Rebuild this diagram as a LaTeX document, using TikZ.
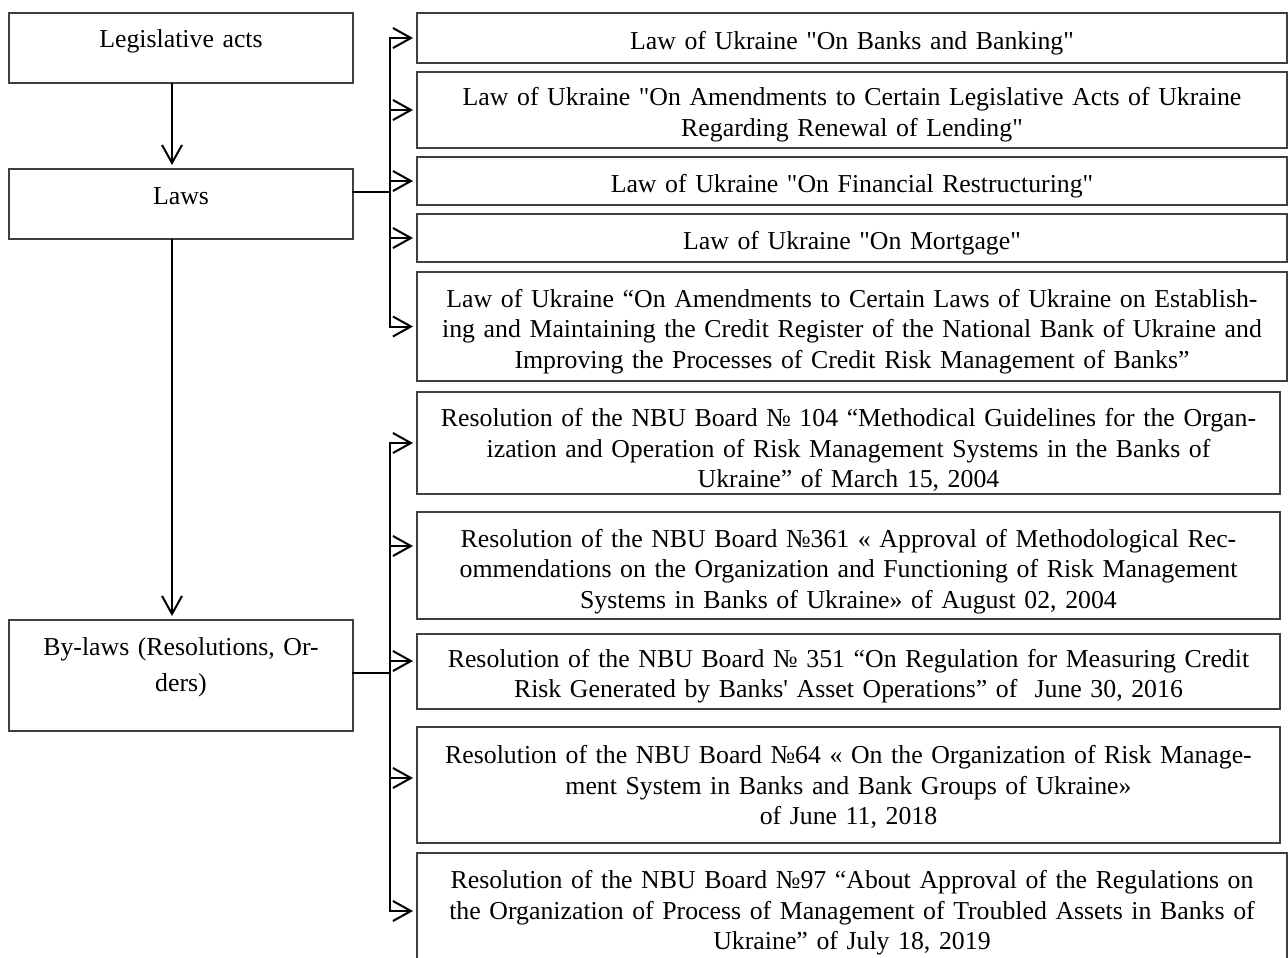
\documentclass[tikz,border=0pt]{standalone}
\usepackage{fontspec}
\setmainfont{Liberation Serif}[Ligatures=TeXOff]
\usetikzlibrary{positioning,arrows.meta}

\begin{document}
\begin{tikzpicture}[x=1pt, y=-1pt,
    lbox/.style={draw=black!75, line width=1.3pt, outer sep=0pt, text width=330pt, align=center, inner xsep=7pt, inner ysep=0pt, text height=35pt, font=\fontsize{25.8}{30.5}\selectfont},
    rbox/.style={draw=black!75, line width=1.3pt, outer sep=0pt, text width=850pt, align=center, inner xsep=10pt, inner ysep=0pt, text height=28pt, font=\fontsize{25.8}{30.5}\selectfont},
    line/.style={line width=2pt, line cap=rect},
    arr/.style={line width=2pt, -{Straight Barb[length=18pt, width=20pt]}, shorten >=4pt}]

    \useasboundingbox (0,0) rectangle (1288,958);

    % left column
    \node[lbox, text depth=35pt, anchor=north west] (legis) at (9,13) {Legislative acts};
    \node[lbox, text depth=35pt, below=86pt of legis] (laws) {Laws};
    \node[lbox, text depth=76pt, below=381pt of laws] (bylaws) {By-laws (Resolutions, Or-\\[5.5pt]ders)};

    % laws
    \node[rbox, minimum height=50pt, anchor=north west] (r1) at (417,13) {Law of Ukraine "On Banks and Banking"};
    \node[rbox, minimum height=76pt, below=9pt of r1] (r2) {Law of Ukraine "On Amendments to Certain Legislative Acts of Ukraine\\Regarding Renewal of Lending"};
    \node[rbox, minimum height=48pt, below=9pt of r2] (r3) {Law of Ukraine "On Financial Restructuring"};
    \node[rbox, minimum height=48pt, below=9pt of r3] (r4) {Law of Ukraine "On Mortgage"};
    \node[rbox, minimum height=109pt, below=10pt of r4] (r5) {Law of Ukraine “On Amendments to Certain Laws of Ukraine on Establish-\\ing and Maintaining the Credit Register of the National Bank of Ukraine and\\Improving the Processes of Credit Risk Management of Banks”};

    % resolutions
    \node[rbox, text width=843pt, text height=32pt, minimum height=102pt, below=11pt of r5.south west, anchor=north west] (r6) {Resolution of the NBU Board № 104 “Methodical Guidelines for the Organ-\\ization and Operation of Risk Management Systems in the Banks of\\Ukraine” of March 15, 2004};
    \node[rbox, text width=843pt, text height=30pt, minimum height=107pt, below=18pt of r6] (r7) {Resolution of the NBU Board №361 « Approval of Methodological Rec-\\ommendations on the Organization and Functioning of Risk Management\\Systems in Banks of Ukraine» of August 02, 2004};
    \node[rbox, text width=843pt, minimum height=75pt, below=15pt of r7] (r8) {Resolution of the NBU Board № 351 “On Regulation for Measuring Credit\\Risk Generated by Banks' Asset Operations” of~ June 30, 2016};
    \node[rbox, text width=843pt, text height=22pt, minimum height=116pt, below=18pt of r8] (r9) {Resolution of the NBU Board №64 « On the Organization of Risk Manage-\\ment System in Banks and Bank Groups of Ukraine»\\of June 11, 2018};
    \node[rbox, text height=22pt, minimum height=116pt, below=10pt of r9.south west, anchor=north west] (r10) {Resolution of the NBU Board №97 “About Approval of the Regulations on\\the Organization of Process of Management of Troubled Assets in Banks of\\Ukraine” of July 18, 2019};

    \coordinate (lawbus) at (390,192);
    \coordinate (bylawbus) at (390,672.5);

    \draw[arr] ([xshift=-9pt]legis.south) -- ([xshift=-9pt]laws.north);
    \draw[arr] ([xshift=-9pt]laws.south) -- ([xshift=-9pt]bylaws.north);

    \draw[line] (laws.east |- lawbus) -- (lawbus);
    \draw[line] (lawbus |- r1.west) -- (lawbus |- r5.west);
    \foreach \b in {r1,r2,r3,r4,r5}
      \draw[arr] (lawbus |- \b.west) -- (\b.west);

    \draw[line] (bylaws.east |- bylawbus) -- (bylawbus);
    \draw[line] (bylawbus |- r6.west) -- (bylawbus |- r10.west);
    \foreach \b/\dy in {r6/0,r7/19.5,r8/10.5,r9/7,r10/0}
      \draw[arr] ([xshift=-27pt, yshift=\dy pt]\b.west) -- ([yshift=\dy pt]\b.west);

  \end{tikzpicture}
\end{document}
